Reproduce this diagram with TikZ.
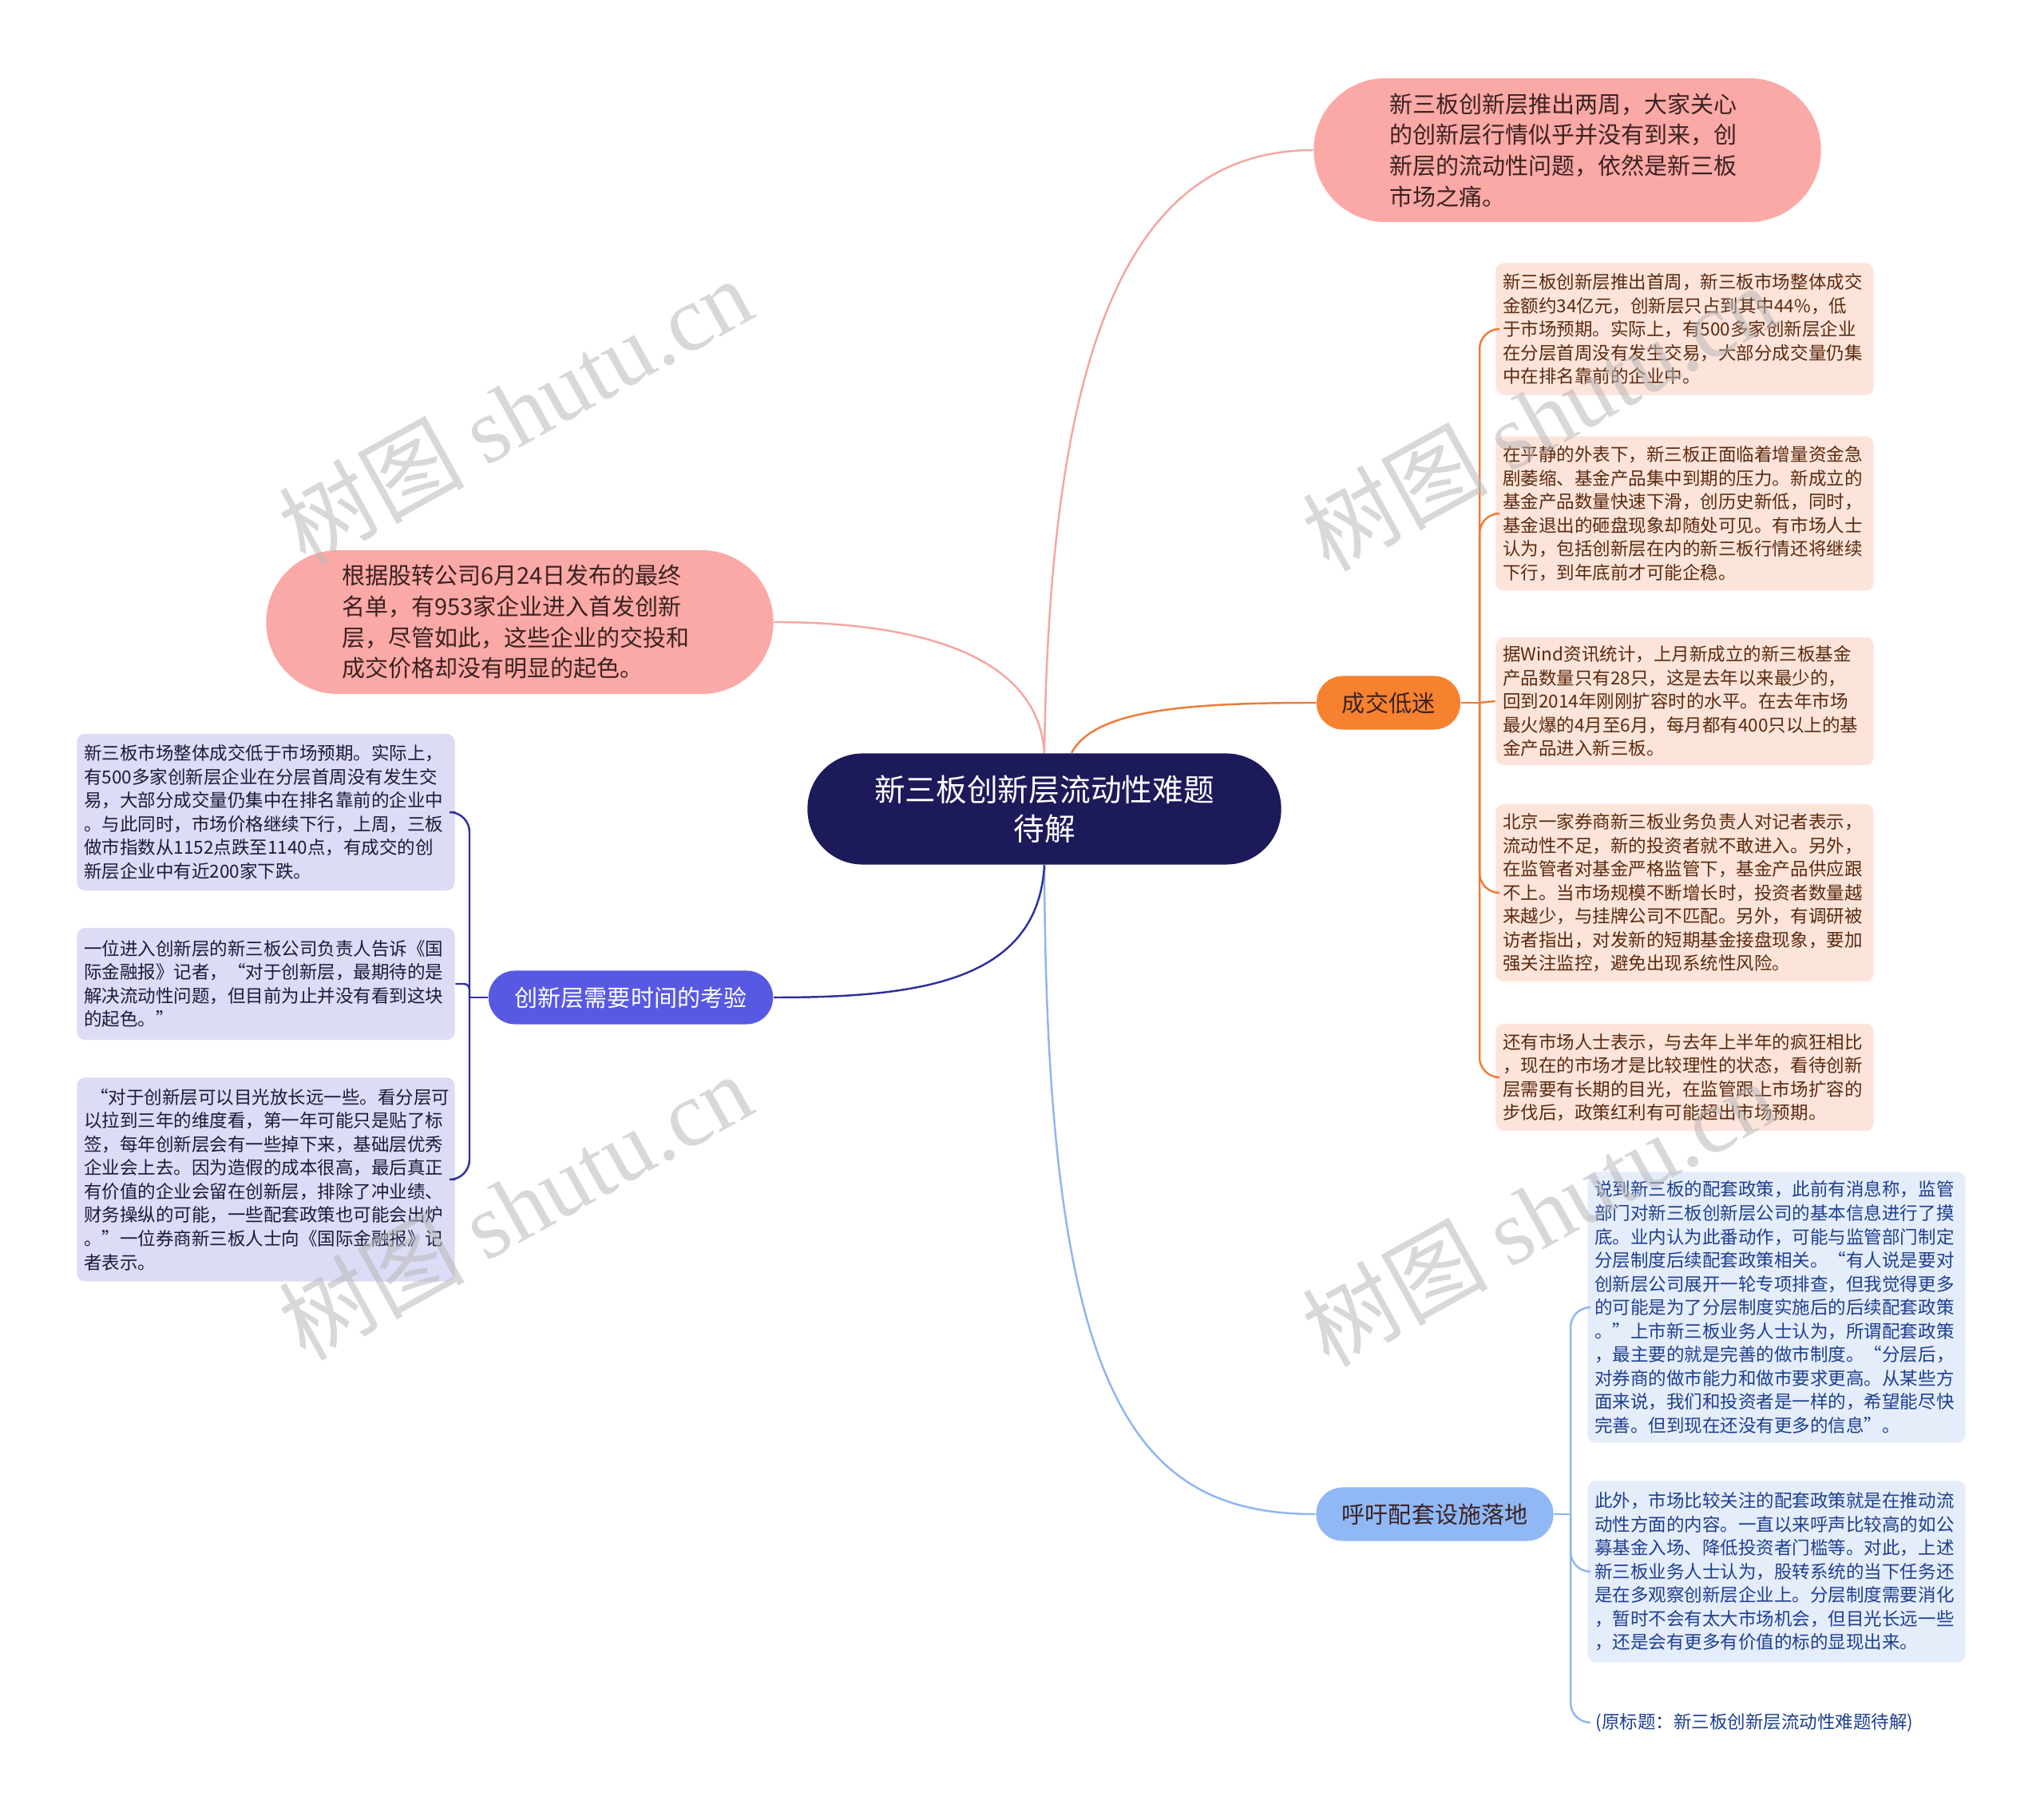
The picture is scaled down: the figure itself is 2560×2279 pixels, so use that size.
\documentclass[tikz,border=0pt]{standalone}
\usepackage{fontspec}
\setmainfont{Noto Sans CJK SC}
\newfontfamily\wmlatin{Liberation Serif}
\newcommand{\leaffont}{\fontsize{6.4pt}{8.4pt}\selectfont}
\newcommand{\midfont}{\fontsize{8.25pt}{11pt}\selectfont}
\newcommand{\rootfont}{\fontsize{11pt}{13.9pt}\selectfont}
\newcommand{\wmfont}{\fontsize{33pt}{35pt}\selectfont}
\definecolor{rootc}{HTML}{1D1A5A}
\definecolor{pinkc}{HTML}{FBA9A6}
\definecolor{pinkline}{HTML}{F4A6A2}
\definecolor{pinktext}{HTML}{3A2222}
\definecolor{orangec}{HTML}{F6812F}
\definecolor{orangeline}{HTML}{EE7C38}
\definecolor{oleafc}{HTML}{FDE4DA}
\definecolor{otextc}{HTML}{5A2A0E}
\definecolor{bluec}{HTML}{90B8F5}
\definecolor{blueline}{HTML}{8FB6F0}
\definecolor{bleafc}{HTML}{E5EDFB}
\definecolor{btextc}{HTML}{1D3F8F}
\definecolor{purplec}{HTML}{5759E2}
\definecolor{purpleline}{HTML}{30309E}
\definecolor{pleafc}{HTML}{DCDCF7}
\definecolor{ptextc}{HTML}{1A1A3C}
\definecolor{wmc}{HTML}{B8B8B8}
\tikzset{
  leafbox/.style={rectangle, rounded corners=0.1cm, inner xsep=0.09cm, inner ysep=0cm,
    text width=4.55cm, align=left, font=\leaffont, anchor=center},
  oleaf/.style={leafbox, fill=oleafc, text=otextc},
  bleaf/.style={leafbox, fill=bleafc, text=btextc},
  pleaf/.style={leafbox, fill=pleafc, text=ptextc},
  rootbox/.style={rectangle, rounded corners=0.69cm, minimum width=5.93cm, minimum height=1.39cm,
    fill=rootc, text=white, align=center, font=\rootfont},
  pinkbox/.style={rectangle, rounded corners=0.9cm, minimum width=6.35cm, minimum height=1.8cm,
    fill=pinkc, text=pinktext, text width=4.45cm, align=left, font=\midfont},
  midbox/.style={rectangle, rounded corners=0.33cm, minimum height=0.67cm, font=\midfont, align=center},
  oconn/.style={draw=orangeline, line width=0.7pt},
  bconn/.style={draw=blueline, line width=0.7pt},
  pconn/.style={draw=purpleline, line width=0.7pt},
  kconn/.style={draw=pinkline, line width=0.7pt},
  wmark/.style={text=wmc, opacity=0.55, rotate=29, font=\wmfont},
}
\begin{document}
\begin{tikzpicture}[x=0.01cm,y=-0.01cm]
\useasboundingbox (0,0) rectangle (2560,2279);
\fill[white] (0,0) rectangle (2560,2279);

% nodes
\node[rootbox] (root) at (1308,1013) {新三板创新层流动性难题\\待解};
\node[pinkbox] (tp) at (1963,188) {新三板创新层推出两周，大家关心\\的创新层行情似乎并没有到来，创\\新层的流动性问题，依然是新三板\\市场之痛。};
\node[pinkbox] (lp) at (651,779) {根据股转公司6月24日发布的最终\\名单，有953家企业进入首发创新\\层，尽管如此，这些企业的交投和\\成交价格却没有明显的起色。};

\node[midbox, fill=orangec, text=pinktext, minimum width=1.8cm] (om) at (1739,880) {成交低迷};
\node[midbox, fill=bluec, text=pinktext, minimum width=2.97cm] (bm) at (1797,1896) {呼吁配套设施落地};
\node[midbox, fill=purplec, text=white, minimum width=3.56cm] (pm) at (790,1249) {创新层需要时间的考验};

\node[oleaf, minimum height=1.65cm] (o1) at (2110,412) {新三板创新层推出首周，新三板市场整体成交\\金额约34亿元，创新层只占到其中44\%，低\\于市场预期。实际上，有500多家创新层企业\\在分层首周没有发生交易，大部分成交量仍集\\中在排名靠前的企业中。};
\node[oleaf, minimum height=1.93cm] (o2) at (2110,643) {在平静的外表下，新三板正面临着增量资金急\\剧萎缩、基金产品集中到期的压力。新成立的\\基金产品数量快速下滑，创历史新低，同时，\\基金退出的砸盘现象却随处可见。有市场人士\\认为，包括创新层在内的新三板行情还将继续\\下行，到年底前才可能企稳。};
\node[oleaf, minimum height=1.60cm] (o3) at (2110,878) {据Wind资讯统计，上月新成立的新三板基金\\产品数量只有28只，这是去年以来最少的，\\回到2014年刚刚扩容时的水平。在去年市场\\最火爆的4月至6月，每月都有400只以上的基\\金产品进入新三板。};
\node[oleaf, minimum height=2.22cm] (o4) at (2110,1118) {北京一家券商新三板业务负责人对记者表示，\\流动性不足，新的投资者就不敢进入。另外，\\在监管者对基金严格监管下，基金产品供应跟\\不上。当市场规模不断增长时，投资者数量越\\来越少，与挂牌公司不匹配。另外，有调研被\\访者指出，对发新的短期基金接盘现象，要加\\强关注监控，避免出现系统性风险。};
\node[oleaf, minimum height=1.34cm] (o5) at (2110,1349) {还有市场人士表示，与去年上半年的疯狂相比\\，现在的市场才是比较理性的状态，看待创新\\层需要有长期的目光，在监管跟上市场扩容的\\步伐后，政策红利有可能超出市场预期。};

\node[bleaf, minimum height=3.39cm] (b1) at (2225,1637) {说到新三板的配套政策，此前有消息称，监管\\部门对新三板创新层公司的基本信息进行了摸\\底。业内认为此番动作，可能与监管部门制定\\分层制度后续配套政策相关。“有人说是要对\\创新层公司展开一轮专项排查，但我觉得更多\\的可能是为了分层制度实施后的后续配套政策\\。”上市新三板业务人士认为，所谓配套政策\\，最主要的就是完善的做市制度。“分层后，\\对券商的做市能力和做市要求更高。从某些方\\面来说，我们和投资者是一样的，希望能尽快\\完善。但到现在还没有更多的信息”。};
\node[bleaf, minimum height=2.27cm] (b2) at (2225,1968) {此外，市场比较关注的配套政策就是在推动流\\动性方面的内容。一直以来呼声比较高的如公\\募基金入场、降低投资者门槛等。对此，上述\\新三板业务人士认为，股转系统的当下任务还\\是在多观察创新层企业上。分层制度需要消化\\，暂时不会有太大市场机会，但目光长远一些\\，还是会有更多有价值的标的显现出来。};
\node[rectangle, inner xsep=0.09cm, inner ysep=0.08cm, font=\leaffont, text=btextc, anchor=west] (b3) at (1989,2157) {(原标题：新三板创新层流动性难题待解)};

\node[pleaf, minimum height=1.96cm] (p1) at (333,1017) {新三板市场整体成交低于市场预期。实际上，\\有500多家创新层企业在分层首周没有发生交\\易，大部分成交量仍集中在排名靠前的企业中\\。与此同时，市场价格继续下行，上周，三板\\做市指数从1152点跌至1140点，有成交的创\\新层企业中有近200家下跌。};
\node[pleaf, minimum height=1.40cm] (p2) at (333,1232) {一位进入创新层的新三板公司负责人告诉《国\\际金融报》记者，“对于创新层，最期待的是\\解决流动性问题，但目前为止并没有看到这块\\的起色。”};
\node[pleaf, minimum height=2.55cm] (p3) at (333,1477) {\hspace*{0.08cm}“对于创新层可以目光放长远一些。看分层可\\以拉到三年的维度看，第一年可能只是贴了标\\签，每年创新层会有一些掉下来，基础层优秀\\企业会上去。因为造假的成本很高，最后真正\\有价值的企业会留在创新层，排除了冲业绩、\\财务操纵的可能，一些配套政策也可能会出炉\\。”一位券商新三板人士向《国际金融报》记\\者表示。};

% main connectors
\draw[kconn] (root.north) .. controls (1315,420) and (1420,188) .. (tp.west);
\draw[kconn] (root.north) .. controls (1300,820) and (1150,779) .. (lp.east);
\draw[oconn] ([xshift=0.34cm]root.north) .. controls (1370,890) and (1480,880) .. (om.west);
\draw[bconn] (root.south) .. controls (1310,1750) and (1420,1896) .. (bm.west);
\draw[pconn] (root.south) .. controls (1300,1230) and (1150,1249) .. (pm.east);

% brackets
\coordinate (oj) at (1853,880);
\draw[oconn] (om.east) -- (oj);
\foreach \n in {o1,o2,o4,o5} \draw[oconn, rounded corners=0.25cm] (oj) |- (\n.west);
\draw[oconn] (oj) -- (o3.west);
\coordinate (bj) at (1967,1896);
\draw[bconn] (bm.east) -- (bj);
\foreach \n in {b1,b2,b3} \draw[bconn, rounded corners=0.25cm] (bj) |- (\n.west);
\coordinate (pj) at (588,1249);
\draw[pconn] (pm.west) -- (pj);
\foreach \n in {p1,p3} \draw[pconn, rounded corners=0.25cm] (pj) |- (\n.east);
\draw[pconn, rounded corners=0.07cm] (pj) |- (p2.east);

% watermarks
\node[wmark] (w1) at (645,514) {树图 {\wmlatin shutu.cn}};
\node[wmark] (w2) at (645,1510) {树图 {\wmlatin shutu.cn}};
\node[wmark] (w3) at (1927,522) {树图 {\wmlatin shutu.cn}};
\node[wmark] (w4) at (1927,1518) {树图 {\wmlatin shutu.cn}};
\end{tikzpicture}
\end{document}
